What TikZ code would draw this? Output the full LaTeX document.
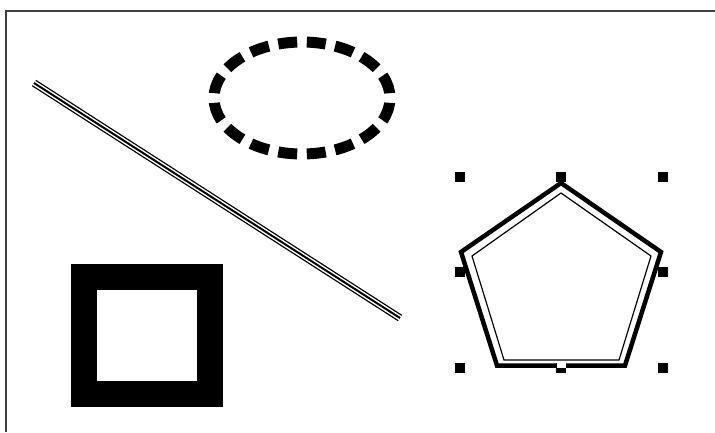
\documentclass[tikz,border=0pt]{standalone}
\begin{document}
\begin{tikzpicture}[x=1pt,y=-1pt,
  handle/.style={fill=black},
  frameline/.style={line width=1.8pt, black!75}]
\useasboundingbox (0,0) rectangle (715,432);
\fill[white] (0,0) rectangle (715,432);
% frame (top and left edges)
\draw[frameline] (6,432) -- (6,11) -- (715,11);
% dashed ellipse
\draw[line width=11pt, dash pattern=on 19pt off 9.62pt, dash phase=23.8pt]
  (302,98) ellipse [x radius=88pt, y radius=56pt];
% triple diagonal line
\coordinate (l1) at (34,83);
\coordinate (l2) at (400,318);
\draw[line width=7.6pt] (l1) -- (l2);
\draw[line width=5pt, white] (l1) -- (l2);
\draw[line width=2pt] (l1) -- (l2);
% thick square frame
\fill[black] (71,264) rectangle (223,407);
\fill[white] (97,290) rectangle (197,381);
% pentagon, outer thick and inner thin outline
\draw[line width=4.5pt, line join=miter] (561,183) -- (661,252) -- (625,365.5) -- (497,365.5) -- (461,252) -- cycle;
\draw[line width=1.2pt] (561,193) -- (651,256) -- (619,360) -- (504,360) -- (472,256) -- cycle;
% selection handles
\foreach \hx/\hy in {460/177, 561/177, 663/177, 460/272, 663/272, 460/368, 561/368, 663/368}
  \fill[handle] (\hx-5,\hy-5) rectangle (\hx+5,\hy+5);
\fill[white] (556.5,363.3) rectangle (565.5,368);
\end{tikzpicture}
\end{document}
